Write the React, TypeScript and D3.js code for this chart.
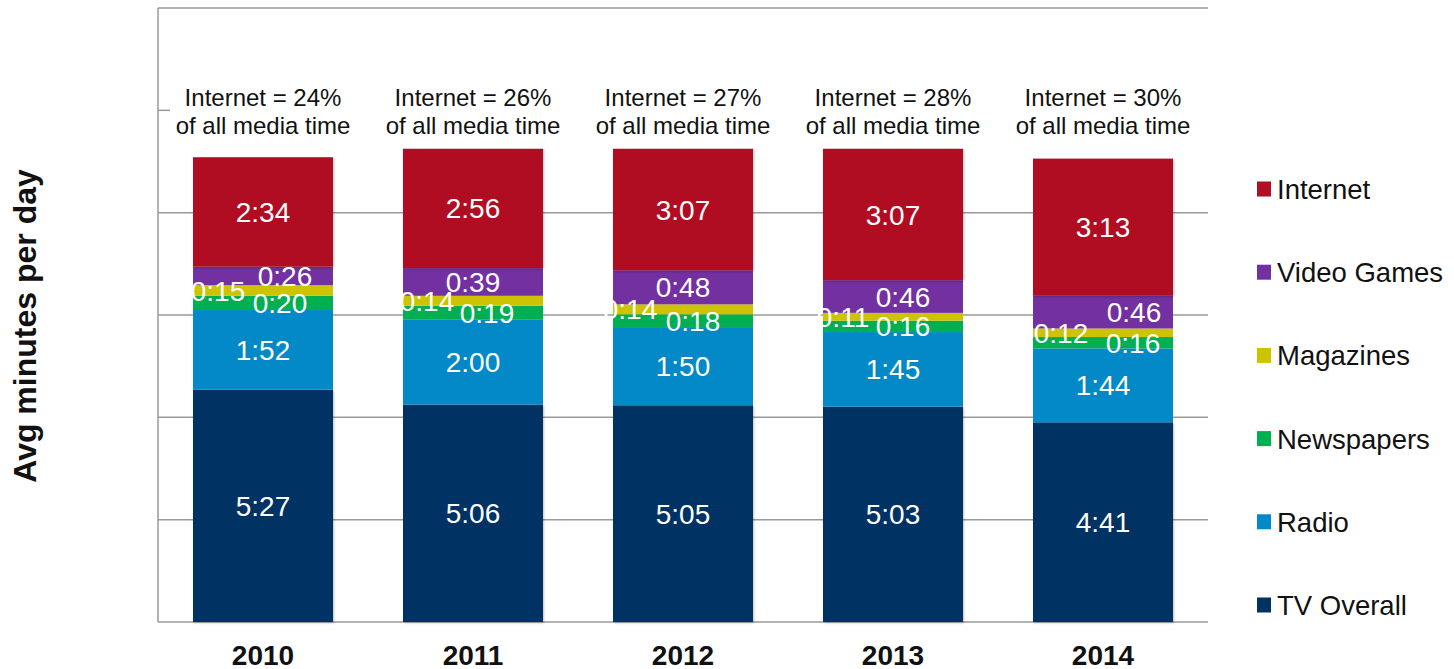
import React from "react";
import * as d3 from "d3";

const years = ["2010", "2011", "2012", "2013", "2014"];
const seriesNames = ["TV Overall", "Radio", "Newspapers", "Magazines", "Video Games", "Internet"];
const tvOverall = [327, 306, 305, 303, 281];
const radio = [112, 120, 110, 105, 104];
const newspapers = [20, 19, 18, 16, 16];
const magazines = [15, 14, 14, 11, 12];
const videoGames = [26, 39, 48, 46, 46];
const internet = [154, 176, 187, 187, 193];
const internetShare = ["24%", "26%", "27%", "28%", "30%"];
const yTicks = [0, 144, 288, 432, 576, 720, 864];
// bars are cut off at this value in the original chart
const barClipMax = 666;

const colors = ["#003263", "#0389C8", "#00B050", "#CDC300", "#7230A0", "#B11022"];

// label horizontal nudges (layout only), per series per year
const labelDx: number[][] = [
  [0, 0, 0, 0, 0],
  [0, 0, 0, 0, 0],
  [17, 14, 10, 10, 30],
  [-45, -46, -53, -50, -42],
  [22, 0, 0, 10, 31],
  [0, 0, 0, 0, 0],
];

const fmt = (m: number) => `${Math.floor(m / 60)}:${String(m % 60).padStart(2, "0")}`;

export default function App() {
  const W = 1454, H = 669;
  const left = 158, right = 1208, top = 8, bottom = 622;
  const seriesVals = [tvOverall, radio, newspapers, magazines, videoGames, internet];
  const rows = years.map((y, i) => {
    const r: any = { year: y };
    seriesNames.forEach((s, k) => (r[s] = seriesVals[k][i]));
    return r;
  });
  const stack = d3.stack<any>().keys(seriesNames)(rows);
  const x = d3.scaleBand().domain(years).range([left, right]).paddingInner(1 / 3).paddingOuter(1 / 6);
  const y = d3.scaleLinear().domain([0, 864]).range([bottom, top]);
  const font = "'Liberation Sans', Arial, sans-serif";
  const clipY = y(barClipMax);

  const legendOrder = [5, 4, 3, 2, 1, 0];
  return (
    <svg width={W} height={H} style={{ position: "absolute", left: 0, top: 0, background: "#fff" }} fontFamily={font}>
      <defs>
        <filter id="sh" x="-10%" y="-10%" width="120%" height="120%">
          <feDropShadow dx="1" dy="1" stdDeviation="1.2" floodColor="#000" floodOpacity="0.25" />
        </filter>
        <clipPath id="barclip">
          <rect x={0} y={clipY} width={W} height={H} />
        </clipPath>
      </defs>
      {yTicks.map((t) => {
        const yy = y(t);
        if (t === 720) return <line key={t} x1={left} x2={left + 12} y1={yy} y2={yy} stroke="#9a9a9a" strokeWidth={1.5} />;
        return <line key={t} x1={left} x2={right} y1={yy} y2={yy} stroke="#9a9a9a" strokeWidth={1.5} />;
      })}
      <line x1={left} x2={left} y1={top} y2={bottom} stroke="#9a9a9a" strokeWidth={1.5} />
      <g clipPath="url(#barclip)">
        {stack.map((s, k) => (
          <g key={s.key}>
            {s.map((d, i) => (
              <rect key={i} x={x(years[i])} width={x.bandwidth()} y={y(d[1])} height={y(d[0]) - y(d[1])} fill={colors[k]} filter={k === 0 || k === 5 ? "url(#sh)" : undefined} />
            ))}
          </g>
        ))}
      </g>
      {stack.map((s, k) => (
        <g key={"l" + s.key}>
          {s.map((d, i) => (
            <text key={i} x={(x(years[i]) as number) + x.bandwidth() / 2 + labelDx[k][i]} y={(y(d[0]) + y(Math.min(d[1], barClipMax))) / 2} dy="0.36em" textAnchor="middle" fill="#fff" fontSize={28}>
              {fmt(d[1] - d[0])}
            </text>
          ))}
        </g>
      ))}
      {years.map((yr, i) => {
        const cx = (x(yr) as number) + x.bandwidth() / 2;
        return (
          <g key={"a" + yr}>
            <text x={cx} y={106} textAnchor="middle" fontSize={24} fill="#111">{`Internet = ${internetShare[i]}`}</text>
            <text x={cx} y={134} textAnchor="middle" fontSize={24} fill="#111">of all media time</text>
            <text x={cx} y={665} textAnchor="middle" fontSize={28} fontWeight="bold" fill="#111">{yr}</text>
          </g>
        );
      })}
      <text transform="translate(36,326) rotate(-90)" textAnchor="middle" fontSize={32} fontWeight="bold" fill="#111">Avg minutes per day</text>
      {legendOrder.map((k, j) => {
        const cy = 189 + j * 83.2;
        return (
          <g key={"lg" + k}>
            <rect x={1257} y={cy - 7.5} width={14} height={15} fill={colors[k]} />
            <text x={1277} y={cy} dy="0.36em" fontSize={27.5} fill="#111">{seriesNames[k]}</text>
          </g>
        );
      })}
    </svg>
  );
}
